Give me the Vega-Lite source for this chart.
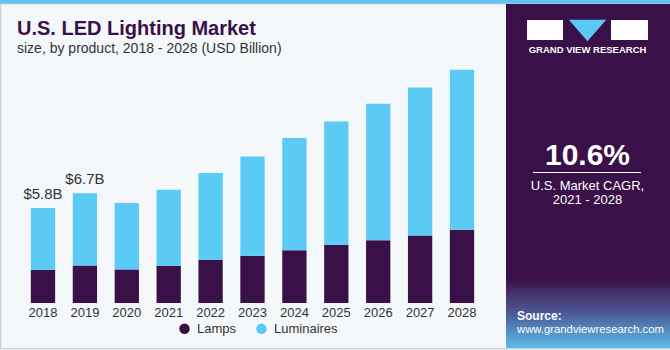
{
  "$schema": "https://vega.github.io/schema/vega-lite/v6.json",
  "width": 670,
  "height": 303,
  "autosize": "none",
  "padding": {"left": 0, "right": 0, "top": 0, "bottom": 47},
  "background": "#F4F8FB",
  "config": {"view": {"stroke": null}, "font": "Liberation Sans"},
  "datasets": {
    "market": [
      {"year": "2018", "product": "Lamps", "value": 2.03},
      {"year": "2019", "product": "Lamps", "value": 2.29},
      {"year": "2020", "product": "Lamps", "value": 2.05},
      {"year": "2021", "product": "Lamps", "value": 2.27},
      {"year": "2022", "product": "Lamps", "value": 2.64},
      {"year": "2023", "product": "Lamps", "value": 2.88},
      {"year": "2024", "product": "Lamps", "value": 3.21},
      {"year": "2025", "product": "Lamps", "value": 3.55},
      {"year": "2026", "product": "Lamps", "value": 3.82},
      {"year": "2027", "product": "Lamps", "value": 4.12},
      {"year": "2028", "product": "Lamps", "value": 4.47},
      {"year": "2018", "product": "Luminaires", "value": 3.77},
      {"year": "2019", "product": "Luminaires", "value": 4.41},
      {"year": "2020", "product": "Luminaires", "value": 4.05},
      {"year": "2021", "product": "Luminaires", "value": 4.64},
      {"year": "2022", "product": "Luminaires", "value": 5.29},
      {"year": "2023", "product": "Luminaires", "value": 6.06},
      {"year": "2024", "product": "Luminaires", "value": 6.85},
      {"year": "2025", "product": "Luminaires", "value": 7.52},
      {"year": "2026", "product": "Luminaires", "value": 8.33},
      {"year": "2027", "product": "Luminaires", "value": 9.03},
      {"year": "2028", "product": "Luminaires", "value": 9.76}
    ],
    "totals": [
      {"year": "2018", "total": 5.8, "label": "$5.8B"},
      {"year": "2019", "total": 6.7, "label": "$6.7B"}
    ]
  },
  "layer": [
    {
      "data": {"values": [{}]},
      "mark": {"type": "rect", "fill": "#5EC6F1"},
      "encoding": {"x": {"value": 0}, "x2": {"value": 670}, "y": {"value": 0}, "y2": {"value": 4}}
    },
    {
      "data": {"values": [{}]},
      "mark": {"type": "rect", "fill": null, "stroke": "#C9CDD2", "strokeWidth": 1.2},
      "encoding": {"x": {"value": 0.6}, "x2": {"value": 669.4}, "y": {"value": 4}, "y2": {"value": 348.6}}
    },
    {
      "data": {"values": [{}]},
      "mark": {
        "type": "rect",
        "color": {
          "gradient": "linear", "x1": 0, "y1": 0, "x2": 0, "y2": 1,
          "stops": [
            {"offset": 0, "color": "#3A1048"},
            {"offset": 0.8, "color": "#3A1048"},
            {"offset": 0.84, "color": "#47306C"},
            {"offset": 0.9, "color": "#4B5A97"},
            {"offset": 1, "color": "#5EBDEB"}
          ]
        }
      },
      "encoding": {"x": {"value": 506}, "x2": {"value": 670}, "y": {"value": 4}, "y2": {"value": 348}}
    },
    {
      "data": {"name": "market"},
      "mark": {"type": "bar"},
      "encoding": {
        "x": {
          "field": "year", "type": "nominal",
          "scale": {"range": [18.7, 486.3], "paddingInner": 0.42, "paddingOuter": 0.29},
          "axis": {"title": null, "labelAngle": 0, "ticks": false, "tickSize": 0, "domain": false, "labelFontSize": 13, "labelColor": "#333333", "labelPadding": 3, "labelFont": "Liberation Sans"}
        },
        "y": {
          "field": "value", "type": "quantitative", "stack": "zero",
          "scale": {"domain": [0, 18.48], "nice": false, "zero": true},
          "axis": null
        },
        "color": {
          "field": "product", "type": "nominal",
          "scale": {"domain": ["Lamps", "Luminaires"], "range": ["#3A1048", "#5BCBF6"]},
          "legend": {
            "title": null, "orient": "none", "direction": "horizontal",
            "legendX": 178, "legendY": 322, "symbolType": "circle", "symbolSize": 110,
            "labelFontSize": 13, "labelColor": "#333333", "labelFont": "Liberation Sans",
            "columnPadding": 18, "labelOffset": 6
          }
        },
        "order": {"field": "product", "sort": "ascending"}
      }
    },
    {
      "data": {"name": "totals"},
      "mark": {"type": "text", "fontSize": 15, "color": "#333333", "dy": -9, "baseline": "alphabetic", "font": "Liberation Sans"},
      "encoding": {
        "x": {"field": "year", "type": "nominal"},
        "y": {"field": "total", "type": "quantitative", "scale": {"domain": [0, 18.48], "nice": false}},
        "text": {"field": "label"}
      }
    },
    {
      "data": {"values": [{"t": "U.S. LED Lighting Market"}]},
      "mark": {"type": "text", "fontSize": 20, "fontWeight": "bold", "color": "#3A1048", "align": "left", "baseline": "alphabetic"},
      "encoding": {"x": {"value": 17}, "y": {"value": 35}, "text": {"field": "t"}}
    },
    {
      "data": {"values": [{"t": "size, by product, 2018 - 2028 (USD Billion)"}]},
      "mark": {"type": "text", "fontSize": 14, "color": "#333333", "align": "left", "baseline": "alphabetic"},
      "encoding": {"x": {"value": 17}, "y": {"value": 53}, "text": {"field": "t"}}
    },
    {
      "data": {"values": [{}]},
      "mark": {"type": "rect", "fill": "white"},
      "encoding": {"x": {"value": 527}, "x2": {"value": 563}, "y": {"value": 20}, "y2": {"value": 40}}
    },
    {
      "data": {"values": [{}]},
      "mark": {"type": "rect", "fill": "white"},
      "encoding": {"x": {"value": 611}, "x2": {"value": 648}, "y": {"value": 20}, "y2": {"value": 40}}
    },
    {
      "data": {"values": [{}]},
      "mark": {"type": "point", "filled": true, "fill": "#5BC8F5", "opacity": 1, "shape": "M -1 -1 L 1 -1 L 0 0.15 Z", "size": 1400},
      "encoding": {"x": {"value": 587.5}, "y": {"value": 38.5}}
    },
    {
      "data": {"values": [{"t": "GRAND VIEW RESEARCH"}]},
      "mark": {"type": "text", "fontSize": 9.5, "fontWeight": "bold", "color": "white", "align": "center", "baseline": "alphabetic"},
      "encoding": {"x": {"value": 587.5}, "y": {"value": 53}, "text": {"field": "t"}}
    },
    {
      "data": {"values": [{"t": "10.6%"}]},
      "mark": {"type": "text", "fontSize": 30, "fontWeight": "bold", "color": "white", "align": "center", "baseline": "alphabetic"},
      "encoding": {"x": {"value": 587.5}, "y": {"value": 165}, "text": {"field": "t"}}
    },
    {
      "data": {"values": [{}]},
      "mark": {"type": "rule", "color": "white", "strokeWidth": 1},
      "encoding": {"x": {"value": 533}, "x2": {"value": 641}, "y": {"value": 172.5}}
    },
    {
      "data": {"values": [{"t": "U.S. Market CAGR,"}]},
      "mark": {"type": "text", "fontSize": 13, "color": "white", "align": "center", "baseline": "alphabetic"},
      "encoding": {"x": {"value": 587.5}, "y": {"value": 190}, "text": {"field": "t"}}
    },
    {
      "data": {"values": [{"t": "2021 - 2028"}]},
      "mark": {"type": "text", "fontSize": 13, "color": "white", "align": "center", "baseline": "alphabetic"},
      "encoding": {"x": {"value": 587.5}, "y": {"value": 204}, "text": {"field": "t"}}
    },
    {
      "data": {"values": [{"t": "Source:"}]},
      "mark": {"type": "text", "fontSize": 12, "fontWeight": "bold", "color": "white", "align": "left", "baseline": "alphabetic"},
      "encoding": {"x": {"value": 517}, "y": {"value": 320}, "text": {"field": "t"}}
    },
    {
      "data": {"values": [{"t": "www.grandviewresearch.com"}]},
      "mark": {"type": "text", "fontSize": 11.3, "color": "white", "align": "left", "baseline": "alphabetic"},
      "encoding": {"x": {"value": 517}, "y": {"value": 333}, "text": {"field": "t"}}
    }
  ]
}
